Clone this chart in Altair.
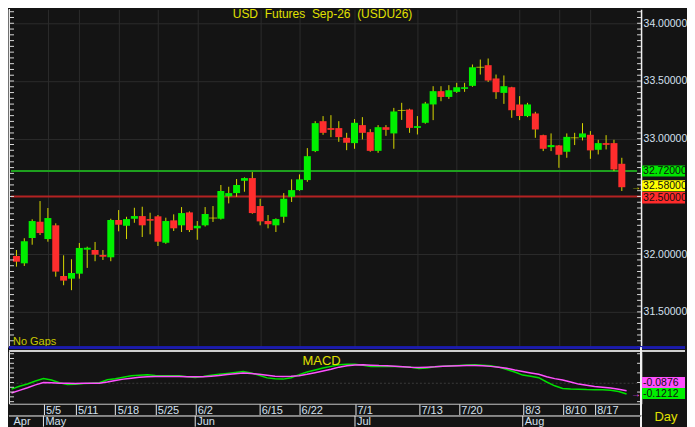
import altair as alt
import pandas as pd

# ---------------- data ----------------
opens = [31.984, 31.921, 32.140, 32.281, 32.131, 32.250, 31.811, 31.788, 31.831, 32.039,
         32.036, 31.993, 31.973, 32.296, 32.246, 32.307, 32.330, 32.304, 32.328, 32.099,
         32.293, 32.250, 32.362, 32.224, 32.250, 32.313, 32.307, 32.501, 32.529, 32.636,
         32.659, 32.417, 32.287, 32.250, 32.324, 32.497, 32.555, 32.642, 32.893, 33.152,
         33.092, 33.092, 33.008, 32.962, 33.118, 33.057, 32.895, 33.100, 33.046, 33.245,
         33.253, 33.094, 33.138, 33.297, 33.412, 33.362, 33.406, 33.432, 33.458, 33.619,
         33.637, 33.522, 33.397, 33.446, 33.297, 33.196, 33.219, 33.031, 32.927, 32.942,
         32.887, 33.008, 33.011, 33.034, 32.904, 32.962, 32.962, 32.783]
highs = [32.036, 32.138, 32.302, 32.460, 32.400, 32.267, 31.990, 31.956, 32.097, 32.065,
         32.106, 32.036, 32.307, 32.382, 32.324, 32.402, 32.411, 32.359, 32.339, 32.316,
         32.345, 32.408, 32.370, 32.287, 32.408, 32.417, 32.599, 32.584, 32.651, 32.665,
         32.711, 32.480, 32.339, 32.310, 32.529, 32.648, 32.691, 32.919, 33.152, 33.196,
         33.204, 33.152, 33.051, 33.170, 33.187, 33.083, 33.118, 33.118, 33.267, 33.311,
         33.260, 33.196, 33.319, 33.455, 33.455, 33.464, 33.484, 33.484, 33.643, 33.686,
         33.695, 33.556, 33.548, 33.450, 33.369, 33.311, 33.233, 33.035, 33.046, 32.945,
         33.046, 33.051, 33.135, 33.066, 32.991, 33.031, 32.991, 32.835]
lows = [31.892, 31.898, 32.082, 32.166, 32.108, 31.805, 31.731, 31.688, 31.788, 31.881,
        31.939, 31.950, 31.939, 32.198, 32.131, 32.272, 32.149, 32.172, 32.071, 32.090,
        32.201, 32.192, 32.192, 32.125, 32.240, 32.279, 32.300, 32.440, 32.497, 32.541,
        32.350, 32.250, 32.224, 32.192, 32.272, 32.452, 32.550, 32.627, 32.884, 33.034,
        33.014, 32.973, 32.901, 32.913, 32.994, 32.887, 32.878, 33.025, 32.913, 33.163,
        33.051, 33.037, 33.130, 33.161, 33.325, 33.345, 33.397, 33.406, 33.450, 33.556,
        33.492, 33.345, 33.302, 33.181, 33.161, 33.187, 33.008, 32.893, 32.893, 32.748,
        32.835, 32.945, 32.985, 32.826, 32.864, 32.907, 32.720, 32.547]
closes = [31.935, 32.112, 32.287, 32.183, 32.313, 31.849, 31.771, 31.837, 32.054, 32.056,
          31.996, 31.978, 32.296, 32.255, 32.304, 32.330, 32.250, 32.290, 32.108, 32.287,
          32.224, 32.356, 32.209, 32.246, 32.348, 32.313, 32.547, 32.529, 32.599, 32.659,
          32.356, 32.284, 32.259, 32.304, 32.480, 32.555, 32.648, 32.849, 33.135, 33.051,
          33.077, 33.014, 32.965, 33.138, 33.051, 32.895, 33.100, 33.077, 33.236, 33.245,
          33.094, 33.109, 33.305, 33.412, 33.362, 33.420, 33.446, 33.446, 33.619, 33.619,
          33.504, 33.403, 33.455, 33.247, 33.196, 33.297, 33.080, 32.913, 32.945, 32.861,
          33.016, 33.008, 33.046, 32.899, 32.962, 32.947, 32.734, 32.580]
macd_line = [-0.069, -0.040, -0.015, 0.015, 0.042, 0.025, -0.003, -0.020, -0.018, -0.012,
             -0.007, -0.002, 0.028, 0.040, 0.055, 0.070, 0.075, 0.080, 0.072, 0.070,
             0.070, 0.070, 0.060, 0.052, 0.062, 0.075, 0.085, 0.095, 0.105, 0.115,
             0.100, 0.075, 0.048, 0.038, 0.035, 0.050, 0.082, 0.110, 0.130, 0.150,
             0.168, 0.185, 0.190, 0.190, 0.180, 0.167, 0.167, 0.167, 0.166, 0.164,
             0.160, 0.145, 0.150, 0.163, 0.170, 0.174, 0.178, 0.182, 0.184, 0.180,
             0.175, 0.160, 0.135, 0.110, 0.077, 0.065, 0.050, 0.005, -0.035, -0.062,
             -0.068, -0.070, -0.074, -0.076, -0.076, -0.080, -0.095, -0.121]
signal_line = [-0.110, -0.082, -0.055, -0.025, 0.000, -0.004, -0.007, -0.009, -0.010, -0.009,
               -0.008, -0.007, 0.005, 0.020, 0.035, 0.045, 0.055, 0.059, 0.062, 0.062,
               0.062, 0.062, 0.060, 0.059, 0.061, 0.066, 0.072, 0.082, 0.092, 0.098,
               0.094, 0.085, 0.075, 0.065, 0.062, 0.064, 0.070, 0.085, 0.102, 0.120,
               0.139, 0.160, 0.174, 0.182, 0.184, 0.180, 0.176, 0.174, 0.170, 0.165,
               0.158, 0.155, 0.160, 0.163, 0.168, 0.172, 0.175, 0.177, 0.177, 0.175,
               0.168, 0.160, 0.148, 0.130, 0.115, 0.100, 0.085, 0.060, 0.040, 0.025,
               0.005, -0.017, -0.030, -0.042, -0.050, -0.058, -0.070, -0.087]

date_ticks = [5, 9, 14, 19, 24, 32, 37, 44, 52, 57, 65, 70, 74]
date_labels = ["5/5", "5/11", "5/18", "5/25", "6/2", "6/15", "6/22", "7/1", "7/13",
               "7/20", "8/3", "8/10", "8/17"]
month_pos = [1, 5, 24, 44, 65]
month_labels = ["Apr", "May", "Jun", "Jul", "Aug"]

price_ticks = [31.5, 32.0, 32.5, 33.0, 33.5, 34.0]
level_prices = [32.72, 32.58, 32.50]
level_labels = ["32.72000", "32.58000", "32.50000"]
level_fills = ["#00e600", "#ffff00", "#ff2b2b"]
macd_box_values = [-0.0876, -0.1212]
macd_box_labels = ["-0.0876", "-0.1212"]
macd_box_fills = ["#ff50ff", "#00f000"]

# ---------------- styling ----------------
BG = "#141414"
GRID = "#2c2c2c"
YELLOW = "#e0e000"
UP = "#00f000"
DOWN = "#ff2d2d"
WICK = "#d8d800"
MAGENTA = "#ff50ff"
MGREEN = "#00e000"
FONT = "Liberation Sans"
W = 633
H1 = 339
H2 = 52
RX = 44  # width of the right-hand label column

n = len(opens)
idx = list(range(1, n + 1))
direction = ["up" if c > o else ("down" if c < o else "flat") for o, c in zip(opens, closes)]
df = pd.DataFrame({"i": idx, "open": opens, "high": highs, "low": lows,
                   "close": closes, "dir": direction})
up_df = df[df["dir"] == "up"]
down_df = df[df["dir"] == "down"]
doji_df = df[df["dir"] == "flat"]

minor_ticks = pd.DataFrame({"v": [round(31.20 + 0.05 * k, 2) for k in range(59)]})

xscale = alt.Scale(domain=[0.6875, 0.6875 + W / 8], nice=False, zero=False)
yscale = alt.Scale(domain=[31.189, 34.121], nice=False, zero=False)

x_main = alt.X("i:Q", scale=xscale, title=None,
               axis=alt.Axis(values=date_ticks, grid=True, gridColor=GRID, labels=False,
                             ticks=False, domain=False))
y_axis = alt.Axis(orient="right", values=price_ticks, grid=True, gridColor=GRID,
                  ticks=False, domainColor="#f0f0f0", domainWidth=1.5,
                  labelExpr="datum.value == 32.5 ? '' : format(datum.value, '.5f')",
                  labelColor="#d4e0ee", labelFont=FONT, labelFontSize=10.5,
                  labelPadding=2, title=None)


def Y(field):
    return alt.Y(field, scale=yscale, axis=y_axis, title=None)


def label_box(value, label, fill, top, bottom, yenc):
    d = pd.DataFrame({"p": [value], "label": [label]})
    rect = alt.Chart(d).mark_rect(color=fill, yOffset=top, y2Offset=bottom).encode(
        y=yenc("p:Q"), y2="p:Q", x=alt.value(W + 1), x2=alt.value(W + RX))
    txt = alt.Chart(d).mark_text(align="left", baseline="middle", font=FONT, fontSize=10.5,
                                 color="#101010", dy=(top + bottom) / 2).encode(
        y=yenc("p:Q"), x=alt.value(W + 2), text="label:N")
    return [rect, txt]


wicks = alt.Chart(df).mark_rule(color=WICK, strokeWidth=1).encode(
    x=x_main, y=Y("low:Q"), y2="high:Q")
up_bodies = alt.Chart(up_df).mark_bar(width=7, color=UP).encode(
    x=x_main, y=Y("open:Q"), y2="close:Q")
down_bodies = alt.Chart(down_df).mark_bar(width=7, color=DOWN).encode(
    x=x_main, y=Y("open:Q"), y2="close:Q")
dojis = alt.Chart(doji_df).mark_tick(orient="horizontal", size=8, thickness=1, color=YELLOW).encode(
    x=x_main, y=Y("open:Q"))

green_line = alt.Chart(pd.DataFrame({"p": [32.72]})).mark_rule(color="#1ea01e", strokeWidth=2).encode(
    y=Y("p:Q"), x=alt.value(2), x2=alt.value(W - 4))
red_line = alt.Chart(pd.DataFrame({"p": [32.50]})).mark_rule(color="#b42222", strokeWidth=2).encode(
    y=Y("p:Q"), x=alt.value(2), x2=alt.value(W))

left_ticks = alt.Chart(minor_ticks).mark_rule(color="#d8d8d8").encode(
    y=Y("v:Q"), x=alt.value(0.5), x2=alt.value(5))
right_ticks = alt.Chart(minor_ticks).mark_rule(color="#d8d8d8").encode(
    y=Y("v:Q"), x=alt.value(W - 4), x2=alt.value(W))
left_line = alt.Chart(minor_ticks).mark_rule(color="#e8e8e8").encode(
    x=alt.value(0.5), y=alt.value(0), y2=alt.value(H1))

box_layers = []
box_offsets = [(-5.5, 5.5), (-7, 4), (-4.5, 7)]
for p, lab, fill, (t, b) in zip(level_prices, level_labels, level_fills, box_offsets):
    box_layers += label_box(p, lab, fill, t, b, Y)

arrow = alt.Chart(pd.DataFrame({"p": [32.58]})).mark_text(
    text="→", color=YELLOW, fontSize=10, font=FONT, baseline="middle").encode(
    y=Y("p:Q"), x=alt.value(W - 5))

title = alt.Chart(pd.DataFrame({"t": ["USD\u00a0 Futures\u00a0 Sep-26\u00a0 (USDU26)"]})).mark_text(
    color=YELLOW, fontSize=12, font=FONT, baseline="top", align="center").encode(
    text="t:N", x=alt.value(314), y=alt.value(0))
nogaps = alt.Chart(pd.DataFrame({"t": ["No Gaps"]})).mark_text(
    color="#c8c800", fontSize=11, font=FONT, baseline="middle", align="left").encode(
    text="t:N", x=alt.value(4), y=alt.value(H1 - 6))

main = alt.layer(
    green_line, red_line, wicks, up_bodies, down_bodies, dojis, left_ticks, right_ticks,
    left_line, *box_layers, arrow, title, nogaps
).properties(width=W, height=H1)

# ---------------- MACD panel ----------------
mscale = alt.Scale(domain=[-0.2217, 0.320], nice=False, zero=False)
label_expr = " : ".join(f"datum.value == {t} ? '{l}'" for t, l in zip(date_ticks, date_labels)) + " : ''"
x_macd = alt.X("i:Q", scale=xscale, title=None,
               axis=alt.Axis(values=date_ticks, grid=False, tickSize=12, tickColor="#e8e8e8",
                             domainColor="#c8c8c8", labelExpr=label_expr, labelAlign="left",
                             labelBaseline="top", labelPadding=-11, labelOffset=2,
                             labelColor="#d4e0ee", labelFont=FONT, labelFontSize=11,
                             labelOverlap=False, labelFlush=False, labelBound=False))
m_axis = alt.Axis(orient="right", values=[0], grid=True, gridColor="#3a3a3a", gridDash=[2, 2],
                  ticks=False, labels=False, domainColor="#f0f0f0", domainWidth=1.5, title=None)


def MY(field):
    return alt.Y(field, scale=mscale, axis=m_axis, title=None)


macd_df = pd.DataFrame({"i": idx, "macd": macd_line, "signal": signal_line})
macd_l = alt.Chart(macd_df).mark_line(strokeWidth=1.5, color=MGREEN).encode(
    x=x_macd, y=MY("macd:Q"))
signal_l = alt.Chart(macd_df).mark_line(strokeWidth=1.5, color=MAGENTA).encode(
    x=x_macd, y=MY("signal:Q"))

mticks_df = pd.DataFrame({"v": [round(-0.20 + 0.05 * k, 2) for k in range(11)]})
m_left_ticks = alt.Chart(mticks_df).mark_rule(color="#d8d8d8").encode(
    y=MY("v:Q"), x=alt.value(0.5), x2=alt.value(5))
m_right_ticks = alt.Chart(pd.DataFrame({"v": [-0.2, -0.1, 0.0, 0.1, 0.2, 0.3]})).mark_rule(
    color="#d8d8d8").encode(y=MY("v:Q"), x=alt.value(W - 4), x2=alt.value(W))
m_left_line = alt.Chart(mticks_df).mark_rule(color="#e8e8e8").encode(
    x=alt.value(0.5), y=alt.value(0), y2=alt.value(H2))

sep_blue = alt.Chart(mticks_df).mark_rule(color="#1c1caa", strokeWidth=2).encode(
    x=alt.value(0), x2=alt.value(W + RX), y=alt.value(-4))
sep_white = alt.Chart(mticks_df).mark_rule(color="#d0d0d0", strokeWidth=1.5).encode(
    x=alt.value(0), x2=alt.value(W + RX), y=alt.value(-1))
axis_ext = alt.Chart(mticks_df).mark_rule(color="#f0f0f0", strokeWidth=1.5).encode(
    x=alt.value(W), y=alt.value(-4), y2=alt.value(H2 + 23))
row_line = alt.Chart(mticks_df).mark_rule(color="#8a8a8a").encode(
    x=alt.value(0), x2=alt.value(W), y=alt.value(H2 + 12))

months_df = pd.DataFrame({"i": month_pos, "m": month_labels})
month_rules = alt.Chart(months_df[months_df["i"] > 1]).mark_rule(color="#e8e8e8").encode(
    x=x_macd, y=alt.value(H2 + 12), y2=alt.value(H2 + 23))
month_text = alt.Chart(months_df).mark_text(
    align="left", baseline="middle", dx=2, color="#d4e0ee", font=FONT, fontSize=11).encode(
    x=x_macd, y=alt.value(H2 + 18.5), text="m:N")

mbox_layers = []
for v, lab, fill, (t, b) in zip(macd_box_values, macd_box_labels, macd_box_fills,
                                [(-14, -2), (-6, 5)]):
    mbox_layers += label_box(v, lab, fill, t, b, MY)

marrow = alt.Chart(pd.DataFrame({"v": [-0.1212]})).mark_text(
    text="→", color=MAGENTA, fontSize=10, font=FONT, baseline="middle").encode(
    y=MY("v:Q"), x=alt.value(W - 5))

macd_title = alt.Chart(pd.DataFrame({"t": ["MACD"]})).mark_text(
    color=YELLOW, fontSize=13, font=FONT, baseline="middle", align="center").encode(
    text="t:N", x=alt.value(313), y=alt.value(9.5))
day_text = alt.Chart(pd.DataFrame({"t": ["Day"]})).mark_text(
    color=YELLOW, fontSize=13, font=FONT, baseline="middle", align="center").encode(
    text="t:N", x=alt.value(W + 25), y=alt.value(H2 + 13))

macd = alt.layer(
    macd_l, signal_l, m_left_ticks, m_right_ticks, m_left_line, sep_blue, sep_white, axis_ext,
    row_line, month_rules, month_text, *mbox_layers, marrow, macd_title, day_text
).properties(width=W, height=H2)

chart = alt.vconcat(main, macd, spacing=4, bounds="flush").properties(
    padding=0, background=BG
).configure_view(stroke=None)

chart.save("out.html", embed_options={"renderer": "svg", "actions": False})
